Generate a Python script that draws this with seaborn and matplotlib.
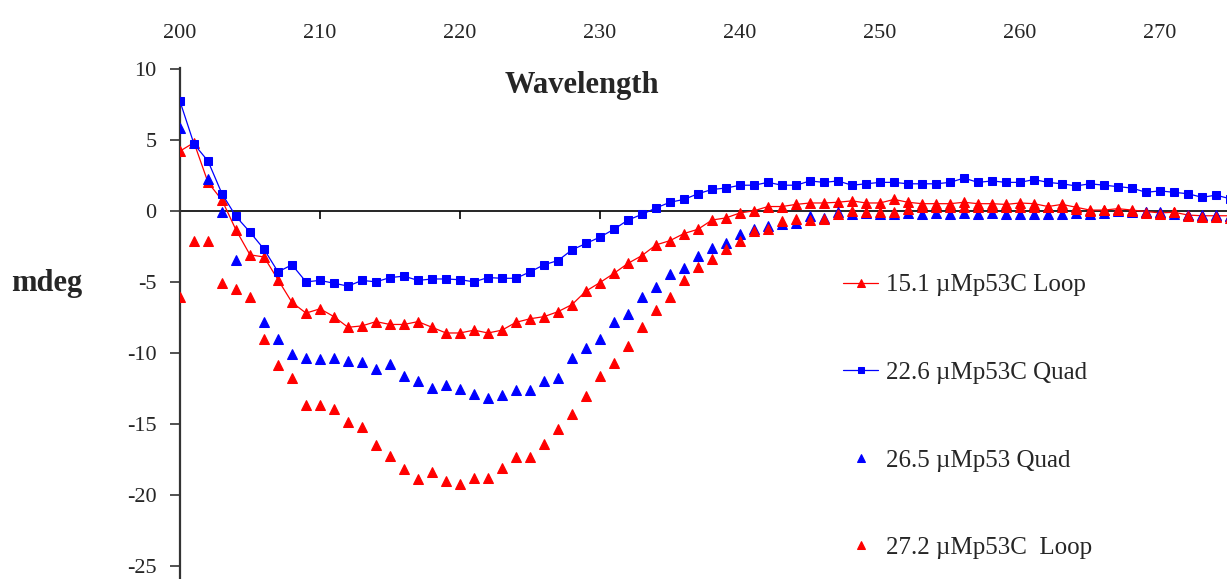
import matplotlib
matplotlib.use("Agg")
import matplotlib.pyplot as plt
import numpy as np
import pandas as pd
import seaborn as sns

wavelength = list(range(200, 276))

# 15.1 uMp53C Loop (red, joined)
loop_151 = [4.2, 4.8, 2.0, 0.75, -1.35, -3.1, -3.25, -4.85, -6.45, -7.2,
            -6.9, -7.45, -8.2, -8.1, -7.8, -8.0, -8.0, -7.8, -8.2, -8.6,
            -8.6, -8.4, -8.6, -8.4, -7.85, -7.6, -7.45, -7.1, -6.6, -5.65,
            -5.05, -4.4, -3.7, -3.15, -2.4, -2.1, -1.6, -1.3, -0.65, -0.5,
            -0.15, 0.0, 0.3, 0.3, 0.45, 0.55, 0.55, 0.6, 0.7, 0.55,
            0.55, 0.8, 0.6, 0.5, 0.5, 0.5, 0.6, 0.5, 0.5, 0.45,
            0.55, 0.5, 0.3, 0.45, 0.25, 0.05, 0.05, 0.15, 0.05, -0.05,
            -0.15, -0.1, -0.3, -0.35, -0.35, -0.35]

# 22.6 uMp53C Quad (blue squares, joined)
quad_226 = [7.7, 4.7, 3.5, 1.2, -0.4, -1.5, -2.7, -4.3, -3.8, -5.0,
            -4.9, -5.1, -5.3, -4.9, -5.0, -4.7, -4.6, -4.9, -4.8, -4.8,
            -4.85, -5.0, -4.7, -4.75, -4.75, -4.3, -3.8, -3.5, -2.75, -2.3,
            -1.85, -1.3, -0.65, -0.25, 0.2, 0.6, 0.8, 1.2, 1.5, 1.6,
            1.8, 1.8, 2.0, 1.8, 1.8, 2.1, 2.0, 2.1, 1.8, 1.9,
            2.0, 2.0, 1.9, 1.9, 1.9, 2.0, 2.3, 2.0, 2.1, 2.0,
            2.0, 2.2, 2.0, 1.9, 1.75, 1.9, 1.8, 1.7, 1.6, 1.3,
            1.4, 1.3, 1.2, 0.95, 1.1, 0.85]

# 26.5 uMp53 Quad (blue triangles, points only)
quad_265 = [5.8, np.nan, 2.25, -0.05, -3.45, np.nan, -7.8, -9.0, -10.1, -10.35,
            -10.4, -10.35, -10.55, -10.65, -11.15, -10.75, -11.6, -11.95, -12.5, -12.25,
            -12.55, -12.9, -13.2, -13.0, -12.6, -12.6, -12.0, -11.75, -10.35, -9.65,
            -9.05, -7.8, -7.25, -6.05, -5.35, -4.45, -4.05, -3.15, -2.6, -2.3,
            -1.6, -1.3, -1.1, -0.9, -0.85, -0.4, -0.5, -0.05, -0.2, -0.15,
            -0.2, -0.2, -0.15, -0.2, -0.15, -0.2, -0.15, -0.2, -0.15, -0.2,
            -0.25, -0.2, -0.2, -0.2, -0.15, -0.2, -0.15, 0.0, -0.1, -0.1,
            -0.1, -0.2, -0.3, -0.3, -0.3, -0.4]

# 27.2 uMp53C Loop (red triangles, points only)
loop_272 = [-6.05, -2.15, -2.15, -5.1, -5.5, -6.05, -9.0, -10.85, -11.8, -13.7,
            -13.7, -13.95, -14.85, -15.2, -16.45, -17.25, -18.2, -18.85, -18.4, -19.05,
            -19.2, -18.8, -18.8, -18.1, -17.3, -17.3, -16.4, -15.35, -14.3, -13.05,
            -11.6, -10.7, -9.55, -8.2, -7.0, -6.1, -4.9, -3.95, -3.4, -2.7,
            -2.15, -1.45, -1.25, -0.75, -0.6, -0.65, -0.55, -0.25, 0.0, -0.05,
            -0.1, -0.1, 0.15, 0.25, 0.25, 0.25, 0.25, 0.25, 0.25, 0.25,
            0.25, 0.25, 0.25, 0.3, 0.1, 0.0, 0.05, 0.05, 0.0, -0.15,
            -0.2, -0.1, -0.35, -0.45, -0.45, -0.5]

labels = ["15.1 \u00b5Mp53C Loop", "22.6 \u00b5Mp53C Quad",
          "26.5 \u00b5Mp53 Quad", "27.2 \u00b5Mp53C  Loop"]

df = pd.DataFrame({"wl": wavelength, "a": loop_151, "b": quad_226,
                   "c": quad_265, "d": loop_272})

sns.set_style("white")
plt.rcParams["font.family"] = ["Liberation Serif", "DejaVu Serif"]
plt.rcParams["axes.unicode_minus"] = False

W, H = 1227, 579
fig = plt.figure(figsize=(W / 100, H / 100), dpi=100)
# y: 0 at px 211, 14.2 px per unit; x: 200 at px 180, 14 px per nm
ax = fig.add_axes([180 / W, 0, 1 - 180 / W, (579 - 68) / H])
ax.set_xlim(200, 200 + (W - 180) / 14)
ax.set_ylim(-(579 - 211) / 14.2, 10 + 0.05)

red, blue = "#ff0000", "#0000ff"
sns.lineplot(data=df, x="wl", y="a", ax=ax, color=red, lw=0.9, marker="^",
             markersize=6.5, markeredgecolor=red, label=labels[0], zorder=3)
sns.lineplot(data=df, x="wl", y="b", ax=ax, color=blue, lw=0.9, marker="s",
             markersize=5.3, markeredgecolor=blue, label=labels[1], zorder=4)
sns.lineplot(data=df, x="wl", y="c", ax=ax, color=blue, linestyle="", marker="^",
             markersize=6.5, markeredgecolor=blue, label=labels[2], zorder=5)
sns.lineplot(data=df, x="wl", y="d", ax=ax, color=red, linestyle="", marker="^",
             markersize=6.5, markeredgecolor=red, label=labels[3], zorder=6)

for s in ["top", "right"]:
    ax.spines[s].set_visible(False)
ax.spines["bottom"].set_position(("data", 0))
ax.spines["bottom"].set_color("black")
ax.spines["bottom"].set_linewidth(1.2)
ax.spines["left"].set_color("#333333")
ax.spines["left"].set_linewidth(1.6)
ax.spines["bottom"].set_zorder(2)

ax.set_xticks(range(200, 271, 10))
ax.set_yticks(range(-25, 11, 5))
ax.tick_params(axis="x", bottom=True, top=False, labelbottom=False, labeltop=True,
               direction="out", length=6, width=1.2, color="black",
               pad=12, labelsize=16)
ax.tick_params(axis="y", left=True, direction="out", length=7, width=1.2,
               color="#333333", pad=10, labelsize=16)
ax.set_xlabel("")
ax.set_ylabel("")

fig.text(582 / W, 1 - 86 / H, "Wavelength", ha="center", va="center",
         fontsize=22, fontweight="bold")
fig.text(47 / W, 1 - 283 / H, "mdeg", ha="center", va="center",
         fontsize=22, fontweight="bold")

ax.legend(loc="upper left", bbox_to_anchor=(843 / W, 1 - 274 / H),
          bbox_transform=fig.transFigure, frameon=False, fontsize=18,
          labelspacing=2.6, handlelength=1.4, handletextpad=0.3,
          borderpad=0, borderaxespad=0, markerscale=0.8)

fig.savefig("out.png", dpi=100)
